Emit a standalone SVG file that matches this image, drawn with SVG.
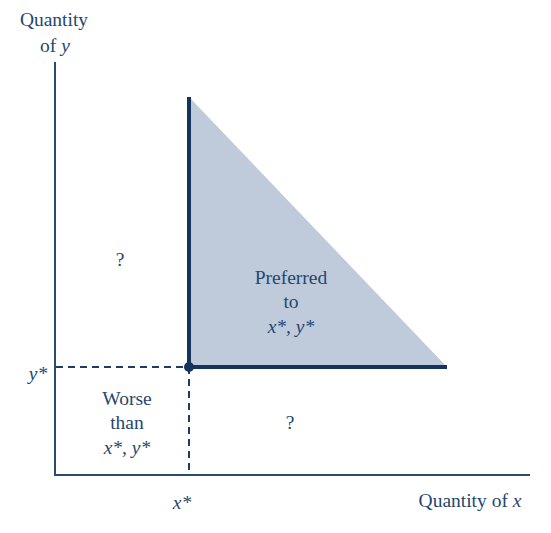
<svg xmlns="http://www.w3.org/2000/svg" width="551" height="533" viewBox="0 0 551 533">
<style>
text{font-family:"Liberation Serif","DejaVu Serif",serif;font-size:19.5px;fill:#24476f;text-anchor:middle}
.i{font-style:italic}
.ax{stroke:#2a4a70;stroke-width:2;fill:none}
.th{stroke:#14345c;stroke-width:4;fill:none}
.da{stroke:#1e3c62;stroke-width:2;stroke-dasharray:7,5;fill:none}
</style>
<rect width="551" height="533" fill="#fff"/>
<g id="region-preferred">
<polygon points="189,97 189,367 447,367" fill="#bfcadb"/>
</g>
<g id="connectors">
<path class="ax" d="M55,62 V475 H530"/>
<path class="da" d="M56,367 H189"/>
<path class="da" d="M189,367 V475"/>
<path class="th" d="M189,97 V367 H447"/>
<circle cx="189" cy="367" r="5" fill="#14345c"/>
</g>
<g id="labels">
<text x="54" y="26">Quantity</text>
<text x="55" y="52">of <tspan class="i">y</tspan></text>
<text x="120" y="266">?</text>
<text x="291" y="284">Preferred</text>
<text x="291" y="308">to</text>
<text x="291" y="333" class="i">x*, y*</text>
<text x="38" y="380" class="i">y*</text>
<text x="127" y="405">Worse</text>
<text x="127" y="429">than</text>
<text x="127" y="454" class="i">x*, y*</text>
<text x="290" y="429">?</text>
<text x="182" y="509" class="i">x*</text>
<text x="470" y="507">Quantity of <tspan class="i">x</tspan></text>
</g>
</svg>
